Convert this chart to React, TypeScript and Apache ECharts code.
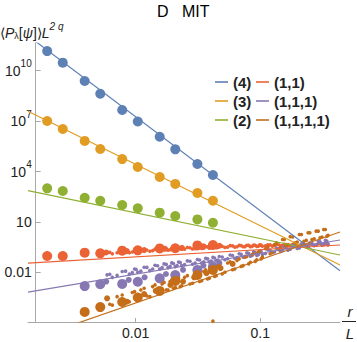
import React, { useEffect, useRef } from 'react';
import * as echarts from 'echarts';

// ---------- data ----------
const X_MIN = 0.001368;
const X_MAX = 0.4365;
const Y_MIN = 1.1e-5;
const Y_MAX = 4.46e11;

// r/L positions of the large markers (r = 1)
const bigX = [0.00195, 0.0026, 0.0039, 0.0052, 0.0078, 0.0104, 0.0156, 0.0208, 0.0313, 0.0417];
const bigXLow = [0.0039, 0.0052, 0.0078, 0.0104, 0.0156, 0.0208, 0.0313, 0.0417];

const big4 = [1.48e11, 3.0e10, 2.45e9, 4.27e8, 4.57e7, 9.5e6, 1.17e6, 2.09e5, 2.8e4, 6.2e3];
const big3 = [1.02e7, 3.39e6, 6.6e5, 2.19e5, 5.5e4, 1.86e4, 4.68e3, 1.82e3, 525, 182];
const big2 = [1000, 692, 275, 182, 102, 64.6, 35.5, 22.4, 14.1, 8.9];
const big11 = [0.0933, 0.0933, 0.148, 0.135, 0.195, 0.204, 0.263, 0.269, 0.398, 0.422];
const big111 = [1.51e-3, 1.95e-3, 2.04e-3, 2.75e-3, 4.37e-3, 6.92e-3, 0.0138, 0.0214];
const big1111 = [4.37e-5, 8.5e-5, 1.7e-4, 3.16e-4, 7.76e-4, 3.02e-3, 6.92e-3, 0.0138];

// medium markers
const med11X = [0.0058, 0.0085, 0.0117, 0.0172, 0.0235, 0.035, 0.047];
const med11 = [0.151, 0.182, 0.209, 0.251, 0.282, 0.355, 0.38];
const med111X = [0.0058, 0.0088, 0.0118, 0.0175, 0.024, 0.035, 0.047];
const med111 = [2.82e-3, 3.55e-3, 5.01e-3, 7.94e-3, 0.0141, 0.0251, 0.0355];
const med1111X = [0.0059, 0.0085, 0.0117, 0.0145, 0.019, 0.024, 0.0295, 0.037, 0.048, 0.06];
const med1111 = [2.82e-4, 1.78e-4, 5.01e-4, 7.94e-4, 1.78e-3, 2.82e-3, 5.01e-3, 8.91e-3, 0.0178, 0.0316];

// small markers (r > 1), two sweeps of r/L
const smallX = [
  0.0059, 0.0065, 0.0078, 0.0089, 0.0098, 0.0104, 0.0117, 0.013, 0.0143, 0.0156,
  0.0169, 0.0182, 0.0195, 0.0208, 0.0221, 0.0234, 0.026, 0.0286, 0.0313, 0.0339,
  0.0365, 0.039, 0.0417, 0.0443, 0.0469, 0.052, 0.0573, 0.0625, 0.0677, 0.0729,
  0.078, 0.0833, 0.0885, 0.0938, 0.099, 0.104, 0.115, 0.125, 0.135, 0.146,
  0.156, 0.167, 0.182, 0.198, 0.214, 0.234, 0.25, 0.271, 0.292, 0.313, 0.333, 0.35,
];
const small11 = [
  0.158, 0.126, 0.174, 0.145, 0.209, 0.166, 0.229, 0.178, 0.24, 0.195,
  0.263, 0.209, 0.269, 0.219, 0.288, 0.234, 0.302, 0.245, 0.324, 0.263,
  0.339, 0.275, 0.355, 0.288, 0.363, 0.302, 0.389, 0.316, 0.398, 0.331,
  0.407, 0.339, 0.417, 0.347, 0.427, 0.355, 0.437, 0.363, 0.447, 0.372,
  0.457, 0.38, 0.468, 0.389, 0.479, 0.398, 0.49, 0.407, 0.501, 0.417, 0.513, 0.427,
];
const small111 = [
  0.00708, 0.00501, 0.0112, 0.00794, 0.0158, 0.01, 0.02, 0.0126, 0.0263, 0.0158,
  0.0316, 0.0191, 0.0363, 0.0219, 0.0407, 0.0251, 0.0479, 0.0302, 0.0575, 0.0355,
  0.0676, 0.0417, 0.0776, 0.0479, 0.0871, 0.0562, 0.107, 0.0676, 0.126, 0.0794,
  0.145, 0.0912, 0.166, 0.102, 0.186, 0.115, 0.219, 0.145, 0.269, 0.174,
  0.324, 0.209, 0.389, 0.263, 0.468, 0.324, 0.575, 0.389, 0.692, 0.457, 0.794, 0.501,
];
const small1111 = [
  2.51e-4, 1.12e-4, 4.47e-4, 1.78e-4, 7.08e-4, 2.82e-4, 1.12e-3, 3.55e-4, 1.78e-3, 5.62e-4,
  2.51e-3, 8.91e-4, 3.55e-3, 1.26e-3, 4.47e-3, 1.58e-3, 6.31e-3, 2.24e-3, 0.01, 3.16e-3,
  0.0141, 4.47e-3, 0.0191, 6.31e-3, 0.0251, 0.01, 0.0417, 0.0158, 0.0631, 0.0251,
  0.0891, 0.0398, 0.126, 0.0562, 0.178, 0.0794, 0.316, 0.158, 0.562, 0.282,
  0.891, 0.447, 1.26, 0.631, 1.78, 0.794, 2.24, 1.0, 2.82, 1.26, 3.55, 1.58,
];
const smallX2 = [
  0.0062, 0.0071, 0.0083, 0.0094, 0.0101, 0.011, 0.0123, 0.0137, 0.015, 0.0163,
  0.0176, 0.0189, 0.0201, 0.0215, 0.0228, 0.0247, 0.0273, 0.03, 0.0326, 0.0352,
  0.0378, 0.0404, 0.043, 0.0456, 0.0495, 0.0547, 0.0599, 0.0651, 0.0703, 0.0755,
  0.0807, 0.0859, 0.0911, 0.0964, 0.1016, 0.11, 0.12, 0.13, 0.141, 0.151,
  0.161, 0.174, 0.19, 0.206, 0.224, 0.242, 0.26, 0.281, 0.302, 0.323, 0.342,
];
const small11b = [
  0.155, 0.145, 0.174, 0.162, 0.195, 0.178, 0.214, 0.195, 0.229, 0.209,
  0.245, 0.219, 0.257, 0.229, 0.269, 0.24, 0.288, 0.257, 0.309, 0.275,
  0.324, 0.288, 0.339, 0.302, 0.355, 0.316, 0.372, 0.331, 0.389, 0.339,
  0.398, 0.347, 0.407, 0.355, 0.417, 0.372, 0.427, 0.38, 0.437, 0.389,
  0.447, 0.398, 0.457, 0.407, 0.468, 0.417, 0.479, 0.427, 0.501, 0.437, 0.513,
];
const small111b = [
  0.00759, 0.00661, 0.0117, 0.00955, 0.0148, 0.0117, 0.0195, 0.0158, 0.0245, 0.0191,
  0.0295, 0.0224, 0.0331, 0.0251, 0.038, 0.0288, 0.0457, 0.0355, 0.0537, 0.0417,
  0.0631, 0.0468, 0.0708, 0.0537, 0.0813, 0.0646, 0.1, 0.0759, 0.117, 0.0891,
  0.135, 0.1, 0.151, 0.112, 0.17, 0.132, 0.209, 0.162, 0.257, 0.2,
  0.302, 0.234, 0.372, 0.282, 0.447, 0.347, 0.537, 0.417, 0.646, 0.49, 0.724,
];
const small1111b = [
  1.26e-4, 3.55e-4, 2.0e-4, 6.31e-4, 2.82e-4, 8.91e-4, 3.98e-4, 1.41e-3, 6.31e-4, 2.0e-3,
  8.91e-4, 2.82e-3, 1.12e-3, 3.98e-3, 1.41e-3, 5.01e-3, 2.0e-3, 7.94e-3, 2.82e-3, 0.0112,
  3.98e-3, 0.0158, 5.62e-3, 0.0224, 7.94e-3, 0.0355, 0.0141, 0.0501, 0.0224, 0.0794,
  0.0316, 0.112, 0.0447, 0.158, 0.0631, 0.251, 0.126, 0.447, 0.224, 0.891,
  0.398, 1.32, 0.562, 1.78, 0.708, 2.24, 0.891, 2.82, 1.12, 3.55, 1.41,
];
const stray1111X = [0.0417];
const stray1111Y = [1.25e-5];

// fitted power laws, value at X_MIN and X_MAX
const fitX = [X_MIN, X_MAX];
const fit4 = [1.216e12, 0.0123];
const fit3 = [3.89e7, 0.0269];
const fit2 = [719, 0.107];
const fit11 = [0.0355, 0.422];
const fit111 = [6.6e-4, 0.838];
const fit1111 = [8.9e-7, 2.51];

const xTickVals = [0.01, 0.1];
const xTickLabels = ['0.01', '0.1'];
const yTickVals = [0.01, 10, 1e4, 1e7, 1e10];
const yTickLabels = ['0.01', '10', '10{sup|4}', '10{sup|7}', '10{sup|10}'];

const legendLeft = ['(4)', '(3)', '(2)'];
const legendRight = ['(1,1)', '(1,1,1)', '(1,1,1,1)'];

// ---------- styles ----------
const C = ['#5E81B5', '#E19C24', '#8FB032', '#EB6235', '#8778B3', '#C56E1A'];
const FONT = 'Liberation Sans, Arial, Helvetica, sans-serif';
const TXT = '#222';
const AX = '#a8a8a8';

function pick(vals: number[], labels: string[], v: number) {
  for (let i = 0; i < vals.length; i++) {
    if (Math.abs(Math.log10(v) - Math.log10(vals[i])) < 1e-6) return labels[i];
  }
  return '';
}

function zip(xs: number[], ys: number[]) {
  return ys.map((y, i) => [xs[i], y]);
}

export default function App() {
  const ref = useRef<HTMLDivElement>(null);
  useEffect(() => {
    if (!ref.current) return;
    const chart = echarts.init(ref.current, null, { renderer: 'svg' });

    const fits = [fit4, fit3, fit2, fit11, fit111, fit1111];
    const names = [...legendLeft, ...legendRight];
    const bigs: [number[], number[]][] = [
      [bigX, big4], [bigX, big3], [bigX, big2], [bigX, big11], [bigXLow, big111], [bigXLow, big1111],
    ];
    // [xs, ys, colour index, size]
    const others: [number[], number[], number, number][] = [
      [smallX, small11, 3, 3.6], [smallX2, small11b, 3, 3.6], [med11X, med11, 3, 6],
      [smallX, small111, 4, 3.6], [smallX2, small111b, 4, 3.6], [med111X, med111, 4, 6],
      [smallX, small1111, 5, 3.6], [smallX2, small1111b, 5, 3.6], [med1111X, med1111, 5, 6],
      [stray1111X, stray1111Y, 5, 3.6],
    ];

    const series: any[] = [];
    bigs.forEach(([xs, ys], i) => {
      series.push({
        type: 'scatter', name: names[i] + ' L', data: zip(xs, ys), symbol: 'circle',
        symbolSize: 10, itemStyle: { color: C[i], opacity: 1 }, z: 3, silent: true,
      });
    });
    others.forEach(([xs, ys, ci, size], k) => {
      series.push({
        type: 'scatter', name: names[ci] + ' r' + k, data: zip(xs, ys), symbol: 'circle',
        symbolSize: size, itemStyle: { color: C[ci], opacity: 1 }, z: 3, silent: true,
      });
    });
    fits.forEach((ys, i) => {
      series.push({
        type: 'line', name: names[i], data: zip(fitX, ys), symbol: 'none', showSymbol: false,
        color: C[i], lineStyle: { color: C[i], width: 1.2 }, itemStyle: { color: C[i] },
        z: 4, silent: true, clip: true,
      });
    });

    const legendCommon = {
      orient: 'vertical', icon: 'rect', itemWidth: 13, itemHeight: 1.6, itemGap: 3,
      textStyle: { fontFamily: FONT, fontWeight: 'bold', fontSize: 15, lineHeight: 16, color: TXT },
      selectedMode: false,
    };

    chart.setOption({
      animation: false,
      grid: { left: 28, right: 17, top: 43, bottom: 20, containLabel: false },
      legend: [
        { ...legendCommon, left: 210, top: 69, data: legendLeft },
        { ...legendCommon, left: 251, top: 69, data: legendRight },
      ],
      xAxis: {
        type: 'log', logBase: 10, min: X_MIN, max: X_MAX,
        axisLine: { show: true, lineStyle: { color: AX, width: 1 } },
        axisTick: { show: true, inside: true, length: 4, customValues: xTickVals, lineStyle: { color: AX } },
        axisLabel: {
          customValues: xTickVals, margin: 4, fontSize: 14, fontFamily: FONT, color: TXT,
          formatter: (v: number) => pick(xTickVals, xTickLabels, v),
        },
        splitLine: { show: false }, minorTick: { show: false },
      },
      yAxis: {
        type: 'log', logBase: 10, min: Y_MIN, max: Y_MAX, offset: -7.7,
        axisLine: { show: true, lineStyle: { color: AX, width: 1 } },
        axisTick: { show: true, inside: true, length: 5, customValues: yTickVals, lineStyle: { color: AX } },
        axisLabel: {
          customValues: yTickVals, margin: 4, fontSize: 14, fontFamily: FONT, color: TXT,
          formatter: (v: number) => pick(yTickVals, yTickLabels, v),
          rich: {
            sup: { fontSize: 10, fontFamily: FONT, color: TXT, verticalAlign: 'bottom', padding: [0, 0, 14, 0] },
          },
        },
        splitLine: { show: false }, minorTick: { show: false },
      },
      graphic: [
        { type: 'text', x: 157, y: 11.7, style: { text: 'D', fontSize: 16, fontFamily: FONT, fill: '#000', verticalAlign: 'middle' } },
        { type: 'text', x: 182, y: 11.7, style: { text: 'MIT', fontSize: 16, fontFamily: FONT, fill: '#000', verticalAlign: 'middle' } },
        {
          type: 'text', x: 0, y: 32.5,
          style: {
            text: '⟨{i|P}{sub|λ}[{i|ψ}]⟩{i|L}{sup|2 q}', fontSize: 14, fontFamily: FONT, fill: TXT, verticalAlign: 'middle',
            rich: {
              i: { fontStyle: 'italic', fontSize: 14, fontFamily: FONT, fill: TXT },
              sub: { fontSize: 9, fontFamily: FONT, fill: TXT, verticalAlign: 'top', padding: [10, 0, 0, 0] },
              sup: { fontSize: 10, fontStyle: 'italic', fontFamily: FONT, fill: TXT, verticalAlign: 'bottom', padding: [0, 0, 12, 0] },
            },
          },
        },
        { type: 'text', x: 350, y: 311.7, style: { text: 'r', fontSize: 15, fontStyle: 'italic', fontFamily: FONT, fill: TXT, align: 'center', verticalAlign: 'middle' } },
        { type: 'line', shape: { x1: 342, y1: 321.5, x2: 356, y2: 321.5 }, style: { stroke: TXT, lineWidth: 1 } },
        { type: 'text', x: 350, y: 333, style: { text: 'L', fontSize: 15, fontStyle: 'italic', fontFamily: FONT, fill: TXT, align: 'center', verticalAlign: 'middle' } },
      ],
      series,
    });
    return () => chart.dispose();
  }, []);
  return <div ref={ref} style={{ position: 'fixed', left: 0, top: 0, width: 357, height: 342, background: '#fff' }} />;
}
